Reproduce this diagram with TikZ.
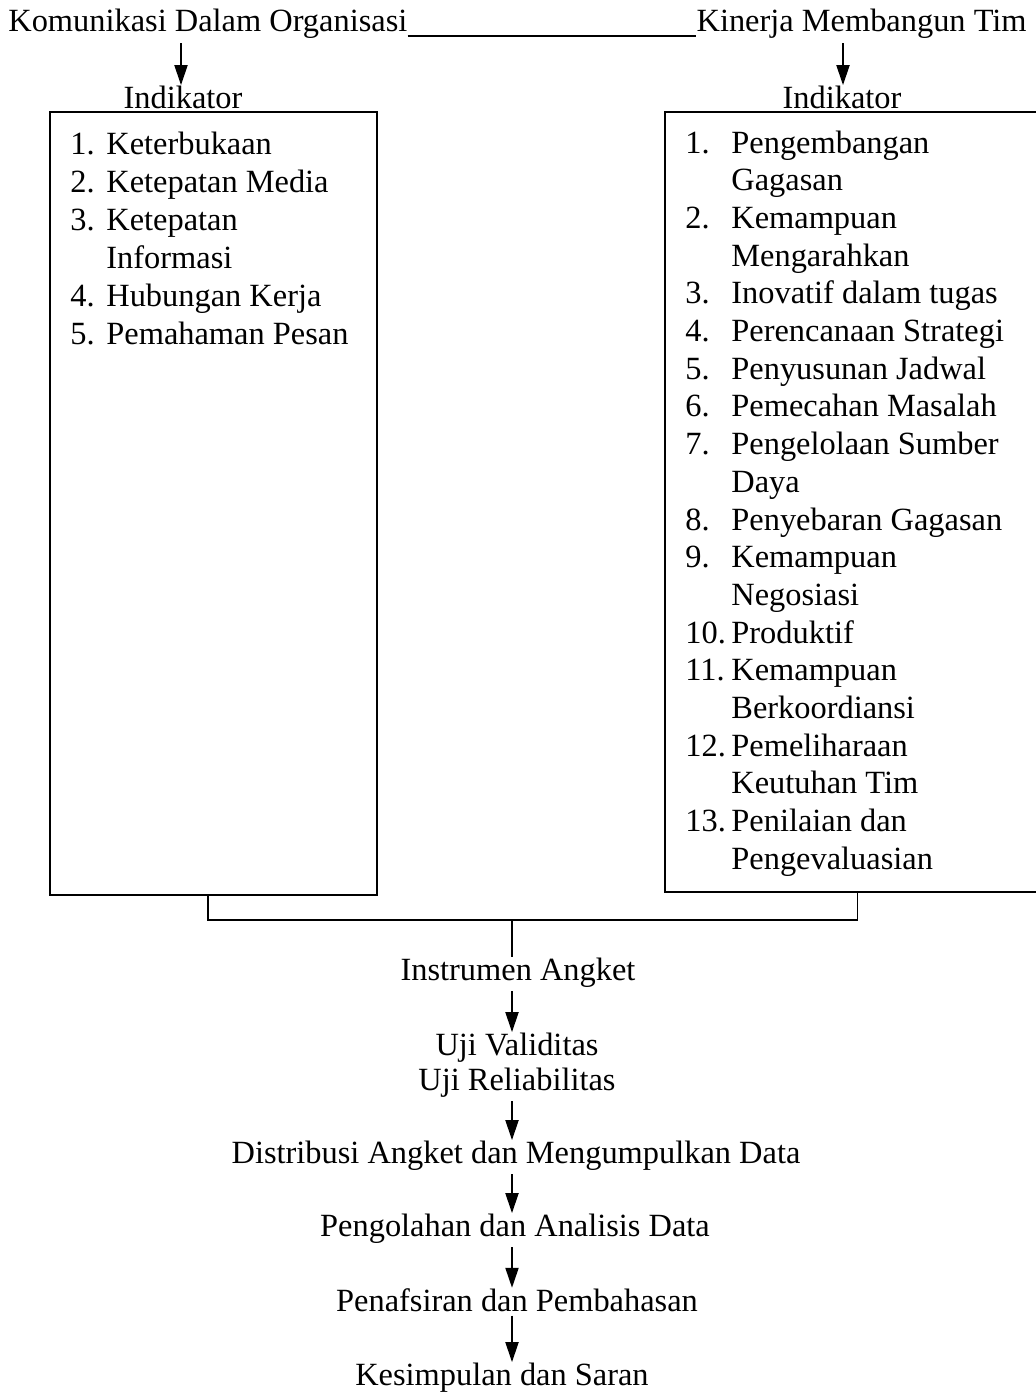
\documentclass[tikz,border=0pt]{standalone}
\usepackage{fontspec}
\setmainfont{Liberation Serif}
\usetikzlibrary{arrows.meta}

\begin{document}
\begin{tikzpicture}[x=0.5pt,y=-0.5pt,>={Triangle[width=6.5pt,length=10pt]},
    label text/.style={font=\fontsize{16.2}{19}\selectfont,inner sep=0pt},
    item/.style={label text,anchor=base west},
    flow/.style={label text,anchor=base},
    box/.style={draw,line width=1.1pt,inner sep=0pt},
    link/.style={->,line width=1pt,shorten <=2pt}]

    \useasboundingbox (0,0) rectangle (1035,1392);

    % variabel
    \node[item] (komunikasi) at (8,32) {Komunikasi Dalam Organisasi};
    \node[label text,anchor=base east] (kinerja) at (1027,32) {Kinerja Membangun Tim};
    \draw[line width=0.6pt] ([yshift=-2pt]komunikasi.base east) -- ([yshift=-2pt]kinerja.base west);

    % kotak indikator
    \node[box,minimum width=163.5pt,minimum height=391.5pt] (kotakkiri) at (213.5,503.5) {};
    \node[box,minimum width=192.5pt,minimum height=390pt] (kotakkanan) at (857.5,502) {};
    \node[flow] (indikatorkiri) at (183,108) {Indikator};
    \node[flow] (indikatorkanan) at (842,108) {Indikator};

    \draw[link] (komunikasi.south -| 181,0) -- (indikatorkiri.north -| 181,0);
    \draw[link] (kinerja.south -| 843,0) -- (indikatorkanan.north -| 843,0);

    % daftar kiri
    \foreach \n/\r in {1/0,2/1,3/2,4/4,5/5}
        \node[item] (nokiri\n) at (70,{154+38*\r}) {\n.};
    \foreach \txt [count=\i from 0] in {Keterbukaan, Ketepatan Media, Ketepatan,
            Informasi, Hubungan Kerja, Pemahaman Pesan}
        \node[item] (kiri\i) at (106,{154+38*\i}) {\txt};

    % daftar kanan
    \foreach \n/\r in {1/0,2/2,3/4,4/5,5/6,6/7,7/8,8/10,9/11,10/13,11/14,12/16,13/18}
        \node[item] (nokanan\n) at (685,{153+37.7*\r}) {\n.};
    \foreach \txt [count=\i from 0] in {Pengembangan, Gagasan, Kemampuan, Mengarahkan,
            Inovatif dalam tugas, Perencanaan Strategi, Penyusunan Jadwal,
            Pemecahan Masalah, Pengelolaan Sumber, Daya, Penyebaran Gagasan,
            Kemampuan, Negosiasi, Produktif, Kemampuan, Berkoordiansi,
            Pemeliharaan, Keutuhan Tim, Penilaian dan, Pengevaluasian}
        \node[item] (kanan\i) at (731,{153+37.7*\i}) {\txt};

    % alur penelitian
    \coordinate (gabung) at (512,920);
    \draw[line width=0.8pt] ([xshift=-2.75pt]kotakkiri.south) |- (gabung) -| (kotakkanan.south);

    \node[flow] (instrumen) at (518,980) {Instrumen Angket};
    \node[flow] (validitas) at (517,1055) {Uji Validitas};
    \node[flow] (reliabilitas) at (517,1090) {Uji Reliabilitas};
    \node[flow] (distribusi) at (516,1163) {Distribusi Angket dan Mengumpulkan Data};
    \node[flow] (pengolahan) at (515,1236) {Pengolahan dan Analisis Data};
    \node[flow] (penafsiran) at (517,1311) {Penafsiran dan Pembahasan};
    \node[flow] (kesimpulan) at (502,1385) {Kesimpulan dan Saran};

    \draw[line width=0.8pt] (gabung) -- (instrumen.north -| gabung);
    \draw[link] (instrumen.south -| gabung) -- (validitas.north -| gabung);
    \draw[link] (reliabilitas.south -| gabung) -- (distribusi.north -| gabung);
    \draw[link] (distribusi.south -| gabung) -- (pengolahan.north -| gabung);
    \draw[link] (pengolahan.south -| gabung) -- (penafsiran.north -| gabung);
    \draw[link] (penafsiran.south -| gabung) -- (kesimpulan.north -| gabung);
\end{tikzpicture}
\end{document}
